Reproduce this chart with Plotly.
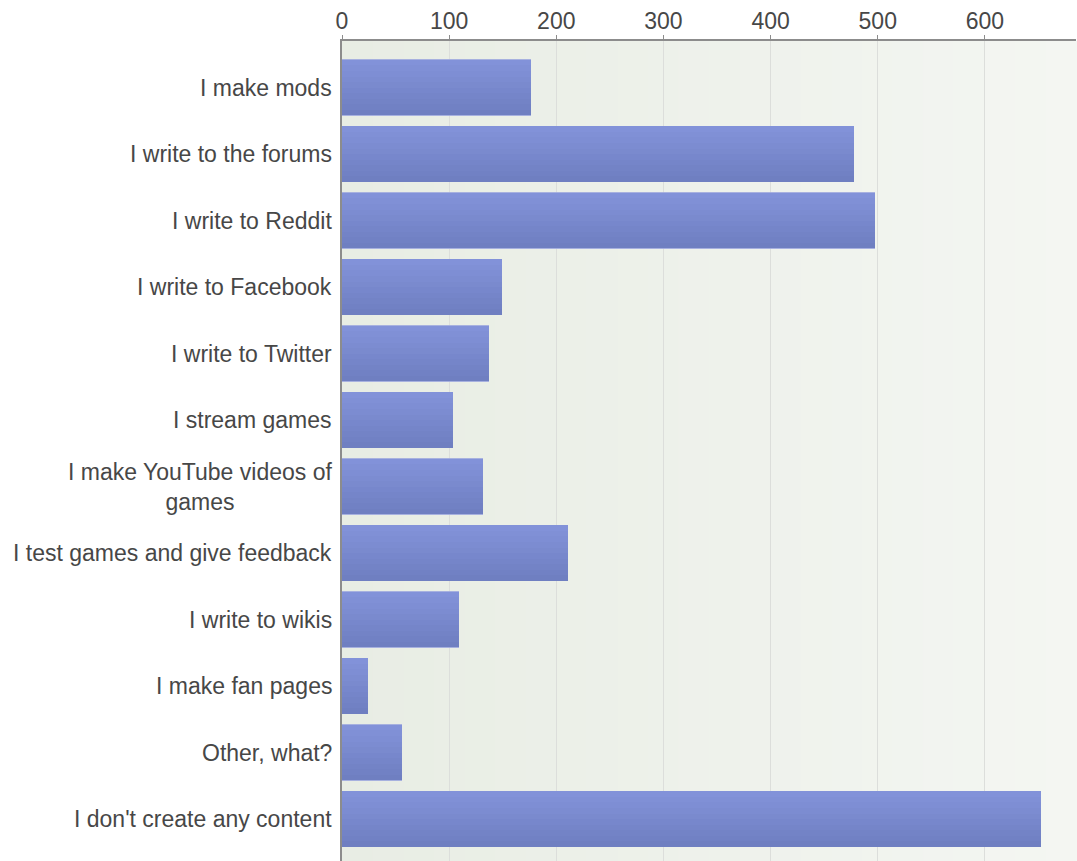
import plotly.graph_objects as go

# Survey: what kind of content do you create?
categories = [
    "I make mods",
    "I write to the forums",
    "I write to Reddit",
    "I write to Facebook",
    "I write to Twitter",
    "I stream games",
    "I make YouTube videos of<br>games",
    "I test games and give feedback",
    "I write to wikis",
    "I make fan pages",
    "Other, what?",
    "I don't create any content",
]
responses = [176, 478, 497, 149, 137, 104, 132, 211, 109, 24, 56, 652]
x_ticks = [0, 100, 200, 300, 400, 500, 600]

W, H = 1077, 861
M_L, M_R, M_T, M_B = 342, 1, 41, 0
X_MAX = 685
FONT = "Liberation Sans, Arial, sans-serif"
TEXT_COLOR = "#474747"

# vertical layout of the category bands (pixels)
band_px = 66.5
top_pad_px = 13.3
plot_h = H - M_T - M_B
y_top = -0.5 - top_pad_px / band_px
y_bottom = y_top + plot_h / band_px

bar_width = 0.83
n_strips = 10
top_rgb = (0x82, 0x92, 0xd9)
bot_rgb = (0x6f, 0x7f, 0xc1)

fig = go.Figure()

# plot-area background: soft horizontal gradient (green-grey to off-white)
n_bg = 24
bg_left = (0xe8, 0xed, 0xe4)
bg_right = (0xf4, 0xf6, 0xf2)
for i in range(n_bg):
    t = i / (n_bg - 1)
    c = tuple(round(bg_left[k] + (bg_right[k] - bg_left[k]) * t) for k in range(3))
    fig.add_shape(
        type="rect", xref="x domain", yref="y domain",
        x0=i / n_bg, x1=(i + 1) / n_bg + 0.002, y0=0, y1=1,
        fillcolor="rgb(%d,%d,%d)" % c, line_width=0, layer="below",
    )

ypos = list(range(len(categories)))

# pale outline behind each bar
fig.add_trace(go.Bar(
    x=responses, y=ypos, orientation="h", width=bar_width + 0.02,
    marker=dict(color="rgba(160,170,222,0.9)", line_width=0),
    hoverinfo="skip", showlegend=False,
))

# bars drawn as stacked horizontal strips for a top-to-bottom gradient
strip_w = bar_width / n_strips
for i in range(n_strips):
    t = i / (n_strips - 1)
    c = tuple(round(top_rgb[k] + (bot_rgb[k] - top_rgb[k]) * t) for k in range(3))
    # y axis is reversed, so a negative offset is nearer the top of the band
    fig.add_trace(go.Bar(
        x=responses, y=ypos, orientation="h",
        width=strip_w + 0.003,
        offset=-bar_width / 2 + i * strip_w,
        marker=dict(color="rgb(%d,%d,%d)" % c, line_width=0),
        hoverinfo="skip", showlegend=False,
    ))

# category labels, right-aligned against the axis with centred line wrapping
for yi, label in zip(ypos, categories):
    fig.add_annotation(
        x=0, xref="paper", xanchor="right", xshift=-8,
        y=yi, yref="y", yanchor="middle",
        text=label, showarrow=False, align="center",
        font=dict(family=FONT, size=23, color=TEXT_COLOR),
    )

fig.update_layout(
    width=W, height=H,
    margin=dict(l=M_L, r=M_R, t=M_T, b=M_B, pad=0),
    paper_bgcolor="white", plot_bgcolor="rgba(0,0,0,0)",
    barmode="overlay", bargap=0,
    font=dict(family=FONT, size=23, color=TEXT_COLOR),
    xaxis=dict(
        side="top", range=[0, X_MAX], tickmode="array", tickvals=x_ticks,
        ticktext=[str(v) for v in x_ticks],
        showgrid=True, gridcolor="#dcdedb", gridwidth=1,
        showline=True, linecolor="#8c8c8c", linewidth=2,
        ticks="outside", ticklen=4, tickcolor="#8c8c8c", tickwidth=1,
        ticklabelstandoff=-3,
        zeroline=False, fixedrange=True,
        tickfont=dict(family=FONT, size=23, color=TEXT_COLOR),
    ),
    yaxis=dict(
        range=[y_bottom, y_top], showticklabels=False, showgrid=False,
        showline=True, linecolor="#8c8c8c", linewidth=2, zeroline=False,
        ticks="", fixedrange=True,
    ),
)

fig.write_html("out.html")
